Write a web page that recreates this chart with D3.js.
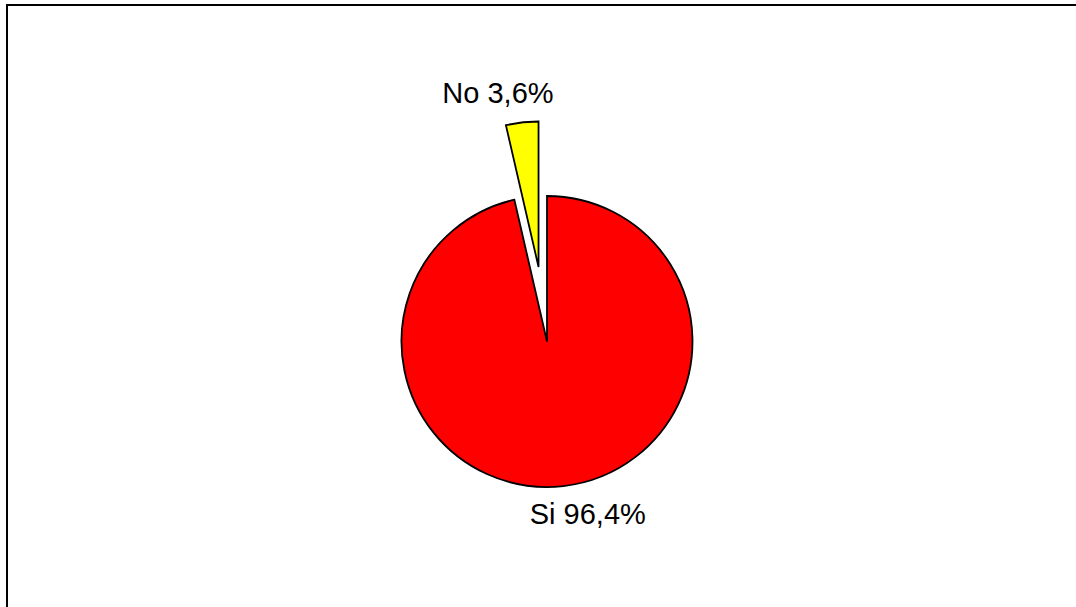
<!DOCTYPE html>
<html>
<head>
<meta charset="utf-8">
<script src="https://cdn.jsdelivr.net/npm/d3@7"></script>
<style>
  body { margin: 0; background: #fff; }
</style>
</head>
<body>
<script>
// chart data
const categories = ['No', 'Si'];
const values = [3.6, 96.4];
const labels = ['No 3,6%', 'Si 96,4%'];
const colors = ['#ffff00', '#ff0000'];

const width = 1076,
  height = 607;

const cx = 547,
  cy = 341.5,
  radius = 145.5;

const svg = d3
  .select('body')
  .append('svg')
  .attr('width', width)
  .attr('height', height);

// outer frame (runs off the right and bottom edge)
svg
  .append('rect')
  .attr('x', 7)
  .attr('y', 5)
  .attr('width', width + 20)
  .attr('height', height + 20)
  .attr('fill', 'none')
  .attr('stroke', 'black')
  .attr('stroke-width', 2);

// No slice sits just left of 12 o'clock, Si runs clockwise from 12 o'clock
const pie = d3
  .pie()
  .sort(null)
  .startAngle(-(values[0] / 100) * 2 * Math.PI)
  .endAngle(2 * Math.PI - (values[0] / 100) * 2 * Math.PI);

const slices = pie(values.slice()).map((d, i) => ({ ...d, name: categories[i] }));

const arc = d3.arc().innerRadius(0).outerRadius(radius);

const g = svg.append('g').attr('transform', `translate(${cx},${cy})`);

// explode the small slice along its bisector
const explode = (d) => (d.name === 'No' ? 75 : 0);
const mid = (d) => (d.startAngle + d.endAngle) / 2;

g.selectAll('path')
  .data(slices)
  .join('path')
  .attr('d', arc)
  .attr('transform', (d) => {
    const e = explode(d);
    return `translate(${Math.sin(mid(d)) * e},${-Math.cos(mid(d)) * e})`;
  })
  .attr('fill', (d, i) => colors[i])
  .attr('stroke', 'black')
  .attr('stroke-width', 1.8)
  .attr('stroke-linejoin', 'miter');

// labels outside the pie
const labelR = (d) => (d.name === 'No' ? 240 : 184);
const labelDx = (d) => (d.name === 'No' ? -22 : 20);

g.selectAll('text')
  .data(slices)
  .join('text')
  .attr('x', (d) => Math.sin(mid(d)) * labelR(d) + labelDx(d))
  .attr('y', (d) => -Math.cos(mid(d)) * labelR(d))
  .attr('text-anchor', 'middle')
  .attr('font-family', 'Liberation Sans, Arial, sans-serif')
  .attr('font-size', 29)
  .attr('fill', 'black')
  .text((d, i) => labels[i]);
</script>
</body>
</html>
